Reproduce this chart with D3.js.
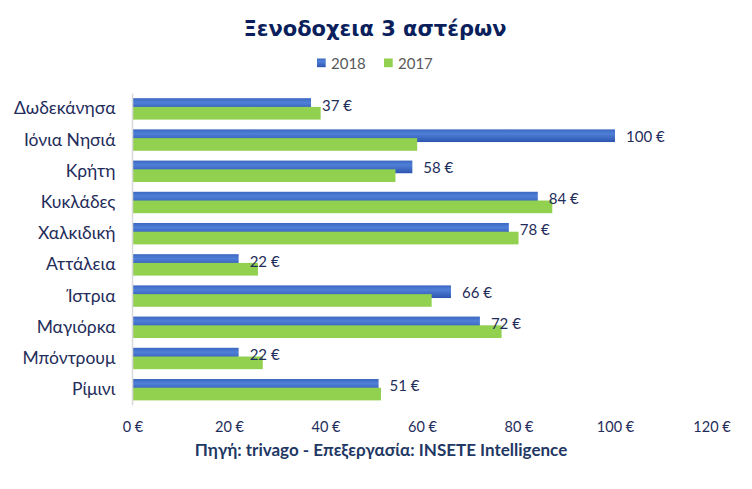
<!DOCTYPE html>
<html lang="el">
<head>
<meta charset="UTF-8">
<title>Ξενοδοχεια 3 αστέρων</title>
<script src="https://d3js.org/d3.v7.min.js"></script>
<style>
    body { margin: 0; padding: 0; background: #ffffff; }
    svg { display: block; }
</style>
</head>
<body>
<div id="chart"></div>
<script>
    // data
    const categories = ["Δωδεκάνησα", "Ιόνια Νησιά", "Κρήτη", "Κυκλάδες", "Χαλκιδική",
                        "Αττάλεια", "Ίστρια", "Μαγιόρκα", "Μπόντρουμ", "Ρίμινι"];
    const values2018 = [37, 100, 58, 84, 78, 22, 66, 72, 22, 51];
    const values2017 = [39, 59, 54.5, 87, 80, 26, 62, 76.5, 27, 51.5];
    const seriesNames = ["2018", "2017"];
    const xTicks = [0, 20, 40, 60, 80, 100, 120];

    const W = 752, H = 489;
    const margin = { top: 93.5, right: 40.5, bottom: 83.5, left: 132.5 };
    const width = W - margin.left - margin.right,
          height = H - margin.top - margin.bottom;

    const navy = "#1f2d5a";
    const font = "Lato, 'Open Sans', sans-serif";

    const svg = d3.select("#chart").append("svg")
        .attr("width", W)
        .attr("height", H);

    const defs = svg.append("defs");
    const grad = defs.append("linearGradient")
        .attr("id", "blueGrad")
        .attr("x1", 0).attr("y1", 0).attr("x2", 0).attr("y2", 1);
    grad.append("stop").attr("offset", "0%").attr("stop-color", "#3c68c2");
    grad.append("stop").attr("offset", "35%").attr("stop-color", "#4f7fd6");
    grad.append("stop").attr("offset", "100%").attr("stop-color", "#2d54b0");

    // title
    svg.append("text")
        .attr("x", 375)
        .attr("y", 36)
        .attr("text-anchor", "middle")
        .attr("font-family", "'DejaVu Sans', sans-serif")
        .attr("font-weight", "bold")
        .attr("font-size", 21)
        .attr("fill", "#0b1f5c")
        .text("Ξενοδοχεια 3 αστέρων");

    // legend
    const legendItems = [
        { name: seriesNames[0], x: 317, fill: "url(#blueGrad)" },
        { name: seriesNames[1], x: 384, fill: "#92d050" }
    ];
    const legend = svg.append("g");
    legendItems.forEach(d => {
        legend.append("rect")
            .attr("x", d.x).attr("y", 58.5)
            .attr("width", 8.7).attr("height", 8.7)
            .attr("fill", d.fill);
        legend.append("text")
            .attr("x", d.x + 14).attr("y", 68.5)
            .attr("font-family", font)
            .attr("font-size", 15)
            .attr("fill", "#595959")
            .text(d.name);
    });

    const g = svg.append("g")
        .attr("transform", `translate(${margin.left},${margin.top})`);

    const x = d3.scaleLinear()
        .domain([0, 120])
        .range([0, width]);

    const y = d3.scaleBand()
        .domain(categories)
        .range([0, height])
        .paddingInner(0.3)
        .paddingOuter(0.15);

    const barH = y.bandwidth() * 0.58;
    const overlapShift = y.bandwidth() * 0.40;

    // 2018 bars
    g.selectAll(".bar2018")
        .data(categories)
        .enter().append("rect")
        .attr("class", "bar2018")
        .attr("x", 0)
        .attr("y", d => y(d))
        .attr("width", (d, i) => x(values2018[i]))
        .attr("height", barH)
        .attr("fill", "url(#blueGrad)");

    // 2017 bars (drawn on top, overlapping)
    g.selectAll(".bar2017")
        .data(categories)
        .enter().append("rect")
        .attr("class", "bar2017")
        .attr("x", 0)
        .attr("y", d => y(d) + overlapShift)
        .attr("width", (d, i) => x(values2017[i]))
        .attr("height", barH)
        .attr("fill", "#92d050");

    // value labels for 2018
    g.selectAll(".label")
        .data(categories)
        .enter().append("text")
        .attr("class", "label")
        .attr("x", (d, i) => x(values2018[i]) + 11)
        .attr("y", d => y(d) + 12.5)
        .attr("font-family", font)
        .attr("font-size", 15)
        .attr("fill", navy)
        .text((d, i) => values2018[i] + " €");

    // y axis
    const yAxis = g.append("g")
        .call(d3.axisLeft(y).tickSize(0).tickPadding(17));
    yAxis.select(".domain")
        .attr("stroke", "#d9d9d9")
        .attr("stroke-width", 1.5)
        .attr("d", `M0,0V${height}`);
    yAxis.selectAll(".tick text")
        .attr("dy", "0.3em")
        .attr("font-family", font)
        .attr("font-size", 17.5)
        .attr("fill", navy);

    // x axis (labels only)
    const xAxis = g.append("g")
        .attr("transform", `translate(0,${height})`)
        .call(d3.axisBottom(x).tickValues(xTicks).tickSize(0).tickPadding(16)
            .tickFormat(d => d + " €"));
    xAxis.select(".domain").remove();
    xAxis.selectAll(".tick text")
        .attr("font-family", font)
        .attr("font-size", 14.5)
        .attr("fill", navy);

    // source
    svg.append("text")
        .attr("x", 381)
        .attr("y", 456)
        .attr("text-anchor", "middle")
        .attr("font-family", font)
        .attr("font-weight", "bold")
        .attr("font-size", 17)
        .attr("fill", "#1f3864")
        .text("Πηγή: trivago - Επεξεργασία: INSETE Intelligence");
</script>
</body>
</html>
